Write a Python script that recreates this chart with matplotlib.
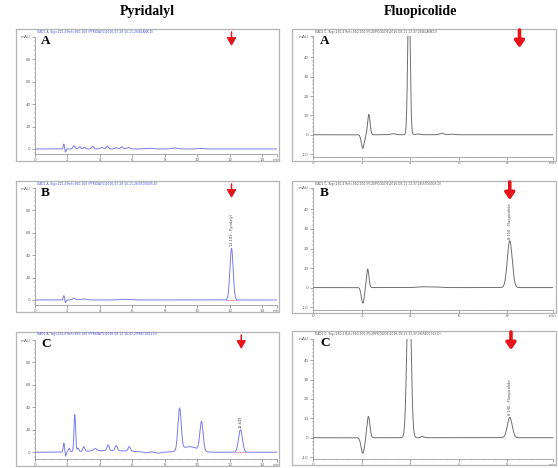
import numpy as np
import matplotlib
matplotlib.use("Agg")
import matplotlib.pyplot as plt
from matplotlib.patches import Rectangle
from matplotlib.ticker import MultipleLocator

W, H = 558, 468
fig = plt.figure(figsize=(W / 100, H / 100), dpi=100)

# ---------------- data ----------------
column_titles = ["Pyridalyl", "Fluopicolide"]
panel_letters = ["A", "B", "C"]

# Pyridalyl chromatograms: peak retention time (min), height (mAU), width (sigma, min)
pyr_A_rt = [1.78, 1.87, 2.40, 2.75, 3.05, 3.55, 4.10, 4.45, 5.00, 5.35, 5.75, 7.00, 8.60, 10.20]
pyr_A_h = [4.5, -3.0, 3.0, 2.0, 1.5, 2.2, 1.2, 2.5, 1.0, 2.0, 1.2, 0.6, 0.8, 0.5]
pyr_A_w = [0.04, 0.04, 0.06, 0.06, 0.06, 0.07, 0.10, 0.07, 0.10, 0.07, 0.10, 0.20, 0.20, 0.20]

pyr_B_rt = [1.78, 1.87, 2.40, 3.00, 5.50, 12.10]
pyr_B_h = [4.0, -2.5, 1.5, 0.8, 0.6, 46.0]
pyr_B_w = [0.04, 0.04, 0.10, 0.20, 0.30, 0.10]

pyr_C_rt = [1.78, 1.88, 2.10, 2.45, 2.65, 3.00, 3.70, 4.50, 4.50, 5.00, 5.80, 6.80, 7.60, 8.90, 9.50, 10.25, 12.65]
pyr_C_h = [8.0, -4.0, 3.0, 33.0, 3.0, 4.0, 2.0, 1.5, 5.0, 4.5, 4.0, -1.0, -1.0, 37.0, 5.0, 26.0, 20.0]
pyr_C_w = [0.04, 0.04, 0.05, 0.05, 0.05, 0.06, 0.10, 1.50, 0.07, 0.07, 0.07, 0.15, 0.15, 0.10, 0.50, 0.10, 0.12]

# Fluopicolide chromatograms
flu_A_rt = [2.05, 2.30, 3.30, 3.95, 4.30, 5.30, 5.70]
flu_A_h = [-7.0, 10.5, 0.5, 75.0, 0.4, 0.8, 0.3]
flu_A_w = [0.06, 0.05, 0.10, 0.05, 0.10, 0.08, 0.10]

flu_B_rt = [2.05, 2.25, 4.50, 5.00, 8.10]
flu_B_h = [-8.0, 9.5, 0.4, 0.3, 24.0]
flu_B_w = [0.06, 0.05, 0.20, 0.20, 0.10]

flu_C_rt = [2.05, 2.28, 3.95, 4.50, 8.10]
flu_C_h = [-8.0, 11.0, 90.0, 0.7, 10.5]
flu_C_w = [0.07, 0.06, 0.08, 0.06, 0.10]

pyr_xticks = [0, 2, 4, 6, 8, 10, 12, 14]
pyr_yticks = [0, 20, 40, 60, 80]
flu_xticks = [0, 2, 4, 6, 8]
flu_yticks = [-10, 0, 10, 20, 30, 40]

pyr_arrow_rt = [12.1, 12.1, 12.7]
flu_arrow_rt = [8.5, 8.1, 8.15]

pyr_labels = [None, "12.109 - Pyridalyl", "12.649"]
flu_labels = [None, "8.150 - Fluopicolide", "8.145 - Fluopicolide"]

pyr_headers = ["DAD1 A, Sig=222,4 Ref=360,100 (PYRIDALYL\\2016-07-28 16-11-26\\BLANK.D)",
               "DAD1 A, Sig=222,4 Ref=360,100 (PYRIDALYL\\2016-07-28 16-11-26\\STD0005.D)",
               "DAD1 A, Sig=222,4 Ref=360,100 (PYRIDALYL\\2016-08-12 16-47-29\\REC0012.D)"]
flu_headers = ["DAD1 C, Sig=230,4 Ref=360,100 (FLUOPICOLIDE\\2016-08-11 13-37-28\\BLANK.D)",
               "DAD1 C, Sig=230,4 Ref=360,100 (FLUOPICOLIDE\\2016-08-11 13-37-28\\STD0005.D)",
               "DAD1 C, Sig=230,4 Ref=360,100 (FLUOPICOLIDE\\2016-08-11 13-37-28\\REC0012.D)"]


def trace(t, rts, hs, ws):
    y = np.zeros_like(t)
    for r, h, w in zip(rts, hs, ws):
        y += h * np.exp(-0.5 * ((t - r) / w) ** 2)
    return y


def px_axes(l, t, r, b):
    return fig.add_axes([l / W, 1 - b / H, (r - l) / W, (b - t) / H])


def frame(l, t, r, b):
    fig.add_artist(Rectangle((l / W, 1 - b / H), (r - l) / W, (b - t) / H,
                             transform=fig.transFigure, fill=False,
                             edgecolor="#b4b4b4", lw=0.9))


serif = "Liberation Serif"
tick_col = "#666666"

# titles
fig.text(147 / W, 1 - 12 / H, column_titles[0], ha="center", va="center",
         family=serif, weight="bold", fontsize=10)
fig.text(420 / W, 1 - 12 / H, column_titles[1], ha="center", va="center",
         family=serif, weight="bold", fontsize=10)

pyr_data = [(pyr_A_rt, pyr_A_h, pyr_A_w), (pyr_B_rt, pyr_B_h, pyr_B_w), (pyr_C_rt, pyr_C_h, pyr_C_w)]
flu_data = [(flu_A_rt, flu_A_h, flu_A_w), (flu_B_rt, flu_B_h, flu_B_w), (flu_C_rt, flu_C_h, flu_C_w)]

pyr_frames = [(16, 29, 279, 161), (16, 181, 279, 312), (16, 332, 279, 466)]
pyr_axes_px = [(35, 37, 277, 154), (35, 188, 277, 305), (35, 340, 277, 459)]
pyr_ylims = [(-4.5, 100), (-4.5, 100), (-6, 100)]

flu_frames = [(292, 29, 556, 161), (292, 181, 556, 313), (292, 331, 556, 465)]
flu_axes_px = [(313, 36, 553, 157), (313, 188, 553, 310), (313, 339, 553, 459)]
flu_ylims = [(-11.5, 51), (-11.5, 51), (-11, 51)]


def style_axes(ax, xlim, ylim, xticks, yticks, xend):
    ax.set_xlim(*xlim)
    ax.set_ylim(*ylim)
    for s in ["top", "right"]:
        ax.spines[s].set_visible(False)
    for s in ["left", "bottom"]:
        ax.spines[s].set_color("#888888")
        ax.spines[s].set_linewidth(0.5)
    ax.set_xticks(list(xticks) + [xend])
    ax.set_xticklabels([str(v) for v in xticks] + ["min"])
    ax.set_yticks(list(yticks) + [ylim[1]])
    ax.set_yticklabels([str(v) for v in yticks] + ["mAU"])
    ax.xaxis.set_minor_locator(MultipleLocator(0.5))
    ax.yaxis.set_minor_locator(MultipleLocator((yticks[1] - yticks[0]) / 5))
    ax.tick_params(axis="both", which="major", labelsize=3, colors=tick_col,
                   length=2, width=0.4, pad=1.2)
    ax.tick_params(axis="both", which="minor", length=1, width=0.3, colors=tick_col)
    ax.patch.set_alpha(0)


blue = "#7a7aee"
grey = "#6e6e6e"
red = "#e8141c"


def red_arrow(x_px, y_tail, y_tip, lw, hw, hl):
    fig.add_artist(plt.Annotation("", xy=(x_px, H - y_tip), xytext=(x_px, H - y_tail),
                                  xycoords="figure pixels", textcoords="figure pixels",
                                  arrowprops=dict(arrowstyle=f"-|>,head_width={hw},head_length={hl}",
                                                  color=red, lw=lw, mutation_scale=8,
                                                  shrinkA=0, shrinkB=0)))


for i in range(3):
    # ----- Pyridalyl column -----
    frame(*pyr_frames[i])
    ax = px_axes(*pyr_axes_px[i])
    t = np.linspace(0, 14.9, 3000)
    rts, hs, ws = pyr_data[i]
    y = trace(t, rts, hs, ws)
    ax.plot(t, y, color=blue, lw=0.7)
    style_axes(ax, (0, 14.9), pyr_ylims[i], pyr_xticks, pyr_yticks, 14.9)
    fl, ft, fr, fb = pyr_frames[i]
    fig.text(41 / W, 1 - (ft + 6) / H, panel_letters[i], ha="left", va="top",
             family=serif, weight="bold", fontsize=9.5)
    fig.text(37 / W, 1 - (ft + 2.5) / H, pyr_headers[i], fontsize=2.2, color="#5050e0",
             ha="left", va="center")
    if pyr_labels[i]:
        pk = rts[-1]
        top = hs[-1]
        ax.text(pk, top + 2, pyr_labels[i], rotation=90, fontsize=2.6, color="#444444",
                ha="center", va="bottom")
        ax.plot([pk - 0.35, pk + 0.35], [0.3, 0.3], color="#e07aa0", lw=0.5)
    x_px = pyr_axes_px[i][0] + pyr_arrow_rt[i] / 14.9 * (pyr_axes_px[i][2] - pyr_axes_px[i][0])
    red_arrow(x_px, ft + 3, ft + 17, 1.1, 0.35, 0.6)

    # ----- Fluopicolide column -----
    frame(*flu_frames[i])
    ax = px_axes(*flu_axes_px[i])
    t = np.linspace(0, 9.88, 3000)
    rts, hs, ws = flu_data[i]
    y = trace(t, rts, hs, ws)
    ax.plot(t, y, color=grey, lw=0.7)
    style_axes(ax, (0, 9.88), flu_ylims[i], flu_xticks, flu_yticks, 9.88)
    fl, ft, fr, fb = flu_frames[i]
    fig.text(320 / W, 1 - (ft + 6) / H, panel_letters[i], ha="left", va="top",
             family=serif, weight="bold", fontsize=9.5)
    fig.text(315 / W, 1 - (ft + 2.5) / H, flu_headers[i], fontsize=2.2, color="#555555",
             ha="left", va="center")
    if flu_labels[i]:
        pk = rts[-1]
        top = hs[-1]
        ax.text(pk, top + 1, flu_labels[i], rotation=90, fontsize=2.6, color="#444444",
                ha="center", va="bottom")
    x_px = flu_axes_px[i][0] + flu_arrow_rt[i] / 9.88 * (flu_axes_px[i][2] - flu_axes_px[i][0])
    red_arrow(x_px, ft + 1, ft + 19, 2.6, 0.35, 0.5)

fig.savefig("out.png", dpi=100)
